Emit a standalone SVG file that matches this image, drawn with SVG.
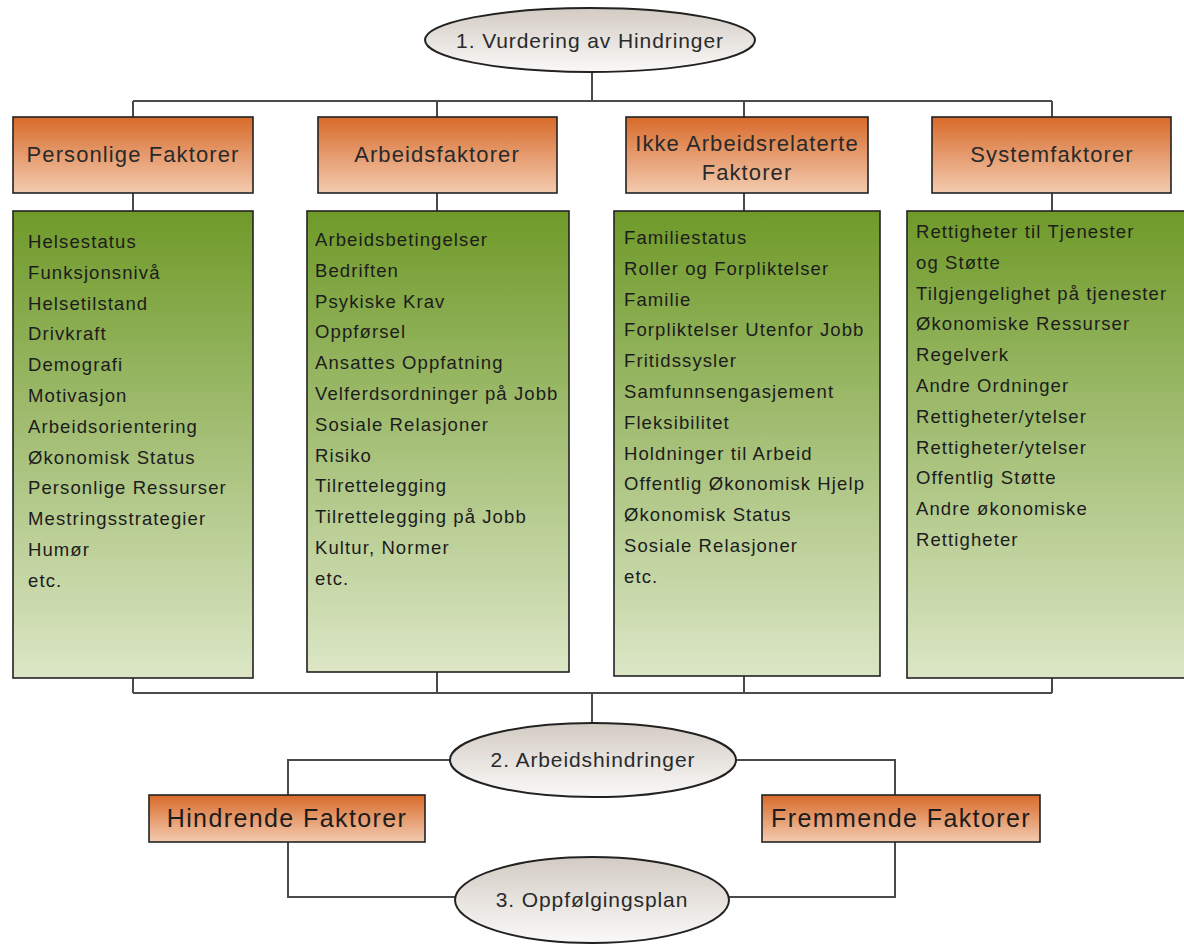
<svg xmlns="http://www.w3.org/2000/svg" width="1184" height="947" viewBox="0 0 1184 947">
  <defs>
    <linearGradient id="gOrange" x1="0" y1="0" x2="0" y2="1">
      <stop offset="0" stop-color="#d86a2a"/>
      <stop offset="1" stop-color="#f3cbb0"/>
    </linearGradient>
    <linearGradient id="gGreen" x1="0" y1="0" x2="0" y2="1">
      <stop offset="0" stop-color="#6f9a29"/>
      <stop offset="1" stop-color="#dce6c6"/>
    </linearGradient>
    <linearGradient id="gGrey" x1="0" y1="0" x2="0" y2="1">
      <stop offset="0" stop-color="#d3cbc3"/>
      <stop offset="1" stop-color="#faf9f8"/>
    </linearGradient>
    <style>
      .link { fill: none; stroke: #4a4a4a; stroke-width: 2; }
      .head { fill: url(#gOrange); stroke: #222; stroke-width: 1.6; }
      .list { fill: url(#gGreen); stroke: #222; stroke-width: 1.6; }
      .oval { fill: url(#gGrey); stroke: #222; stroke-width: 2; }
      text { font-family: "Liberation Sans", Arial, sans-serif; fill: #1c1c1c; }
      .ht { font-size: 22px; letter-spacing: 1.1px; text-anchor: middle; fill: #2a2a2a; }
      .bt { font-size: 25px; letter-spacing: 1.4px; text-anchor: middle; }
      .ot { font-size: 21px; letter-spacing: 0.9px; text-anchor: middle; fill: #2a2a2a; }
      .li { font-size: 18.5px; letter-spacing: 1.1px; }
    </style>
  </defs>
  <rect width="1184" height="947" fill="#ffffff"/>

  <!-- connectors -->
  <g id="connectors">
    <path class="link" d="M592 72 V101 M133 101 H1052 M133 101 V117 M437 101 V117 M744 101 V117 M1052 101 V117"/>
    <path class="link" d="M133 193 V211 M437 193 V211 M744 193 V211 M1052 193 V211"/>
    <path class="link" d="M133 678 V693 M437 672 V693 M744 676 V693 M1052 678 V693 M133 693 H1052 M592 693 V723"/>
    <path class="link" d="M450 760 H288 V795 M736 760 H895 V795"/>
    <path class="link" d="M288 842 V897 H456 M728 897 H895 V842"/>
  </g>

  <!-- top oval -->
  <g id="n-vurdering">
    <ellipse class="oval" cx="590" cy="40" rx="165" ry="32"/>
    <text class="ot" x="590" y="48">1. Vurdering av Hindringer</text>
  </g>

  <!-- category headers -->
  <g id="n-personlige-head">
    <rect class="head" x="13" y="117" width="240" height="76"/>
    <text class="ht" x="133" y="162">Personlige Faktorer</text>
  </g>
  <g id="n-arbeids-head">
    <rect class="head" x="318" y="117" width="239" height="76"/>
    <text class="ht" x="437" y="162">Arbeidsfaktorer</text>
  </g>
  <g id="n-ikke-head">
    <rect class="head" x="626" y="117" width="242" height="76"/>
    <text class="ht" x="747" y="151">Ikke Arbeidsrelaterte</text>
    <text class="ht" x="747" y="180">Faktorer</text>
  </g>
  <g id="n-system-head">
    <rect class="head" x="932" y="117" width="239" height="76"/>
    <text class="ht" x="1052" y="162">Systemfaktorer</text>
  </g>

  <!-- factor lists -->
  <g id="n-personlige-list">
    <rect class="list" x="13" y="211" width="240" height="467"/>
    <text class="li" x="28" y="248">Helsestatus</text>
    <text class="li" x="28" y="278.8">Funksjonsnivå</text>
    <text class="li" x="28" y="309.6">Helsetilstand</text>
    <text class="li" x="28" y="340.4">Drivkraft</text>
    <text class="li" x="28" y="371.2">Demografi</text>
    <text class="li" x="28" y="402">Motivasjon</text>
    <text class="li" x="28" y="432.8">Arbeidsorientering</text>
    <text class="li" x="28" y="463.6">Økonomisk Status</text>
    <text class="li" x="28" y="494.4">Personlige Ressurser</text>
    <text class="li" x="28" y="525.2">Mestringsstrategier</text>
    <text class="li" x="28" y="556">Humør</text>
    <text class="li" x="28" y="586.8">etc.</text>
  </g>
  <g id="n-arbeids-list">
    <rect class="list" x="307" y="211" width="262" height="461"/>
    <text class="li" x="315" y="246">Arbeidsbetingelser</text>
    <text class="li" x="315" y="276.8">Bedriften</text>
    <text class="li" x="315" y="307.6">Psykiske Krav</text>
    <text class="li" x="315" y="338.4">Oppførsel</text>
    <text class="li" x="315" y="369.2">Ansattes Oppfatning</text>
    <text class="li" x="315" y="400">Velferdsordninger på Jobb</text>
    <text class="li" x="315" y="430.8">Sosiale Relasjoner</text>
    <text class="li" x="315" y="461.6">Risiko</text>
    <text class="li" x="315" y="492.4">Tilrettelegging</text>
    <text class="li" x="315" y="523.2">Tilrettelegging på Jobb</text>
    <text class="li" x="315" y="554">Kultur, Normer</text>
    <text class="li" x="315" y="584.8">etc.</text>
  </g>
  <g id="n-ikke-list">
    <rect class="list" x="614" y="211" width="266" height="465"/>
    <text class="li" x="624" y="244">Familiestatus</text>
    <text class="li" x="624" y="274.8">Roller og Forpliktelser</text>
    <text class="li" x="624" y="305.6">Familie</text>
    <text class="li" x="624" y="336.4">Forpliktelser Utenfor Jobb</text>
    <text class="li" x="624" y="367.2">Fritidssysler</text>
    <text class="li" x="624" y="398">Samfunnsengasjement</text>
    <text class="li" x="624" y="428.8">Fleksibilitet</text>
    <text class="li" x="624" y="459.6">Holdninger til Arbeid</text>
    <text class="li" x="624" y="490.4">Offentlig Økonomisk Hjelp</text>
    <text class="li" x="624" y="521.2">Økonomisk Status</text>
    <text class="li" x="624" y="552">Sosiale Relasjoner</text>
    <text class="li" x="624" y="582.8">etc.</text>
  </g>
  <g id="n-system-list">
    <rect class="list" x="907" y="211" width="282" height="467"/>
    <text class="li" x="916" y="238">Rettigheter til Tjenester</text>
    <text class="li" x="916" y="268.8">og Støtte</text>
    <text class="li" x="916" y="299.6">Tilgjengelighet på tjenester</text>
    <text class="li" x="916" y="330.4">Økonomiske Ressurser</text>
    <text class="li" x="916" y="361.2">Regelverk</text>
    <text class="li" x="916" y="392">Andre Ordninger</text>
    <text class="li" x="916" y="422.8">Rettigheter/ytelser</text>
    <text class="li" x="916" y="453.6">Rettigheter/ytelser</text>
    <text class="li" x="916" y="484.4">Offentlig Støtte</text>
    <text class="li" x="916" y="515.2">Andre økonomiske</text>
    <text class="li" x="916" y="546">Rettigheter</text>
  </g>

  <!-- lower stage -->
  <g id="n-arbeidshindringer">
    <ellipse class="oval" cx="593" cy="760" rx="143" ry="37"/>
    <text class="ot" x="593" y="767">2. Arbeidshindringer</text>
  </g>
  <g id="n-hindrende">
    <rect class="head" x="149" y="795" width="276" height="47"/>
    <text class="bt" x="287" y="827">Hindrende Faktorer</text>
  </g>
  <g id="n-fremmende">
    <rect class="head" x="762" y="795" width="278" height="47"/>
    <text class="bt" x="901" y="827">Fremmende Faktorer</text>
  </g>
  <g id="n-oppfolgingsplan">
    <ellipse class="oval" cx="592" cy="900" rx="137" ry="43"/>
    <text class="ot" x="592" y="907">3. Oppfølgingsplan</text>
  </g>
</svg>
